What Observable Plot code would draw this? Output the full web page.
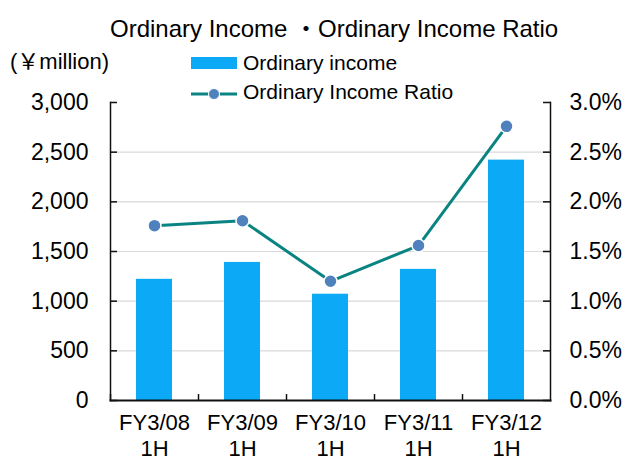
<!DOCTYPE html>
<html><head><meta charset="utf-8">
<script src="https://cdn.jsdelivr.net/npm/d3@7"></script>
<script src="https://cdn.jsdelivr.net/npm/@observablehq/plot@0.6"></script>
<style>
body{margin:0;background:#fff;font-family:"Liberation Sans",Arial,"Noto Sans CJK JP",sans-serif;}
#wrap{position:relative;width:629px;height:461px;overflow:hidden;}
#chart{position:absolute;left:0;top:0;}
.t{position:absolute;white-space:nowrap;color:#000;line-height:1;}
.cjk{font-family:"Noto Sans CJK JP",sans-serif;}
.sw{position:absolute;}
</style></head><body>
<div id="wrap">
  <div id="chart"></div>
  <div class="t" style="left:110px;top:14.7px;font-size:24px">Ordinary Income <span class="cjk">・</span>Ordinary Income Ratio</div>
  <div class="t" style="left:10px;top:48px;font-size:22px">(<span class="cjk">￥</span>million)</div>
  <svg class="sw" style="left:185px;top:50px" width="60" height="60">
    <rect x="6" y="7" width="46" height="12" fill="#0BA9F6"></rect>
    <line x1="6" y1="44" x2="52" y2="44" stroke="#0A8482" stroke-width="3"></line>
    <circle cx="29" cy="44" r="5.5" fill="#4F81BD" stroke="#fff" stroke-width="1"></circle>
  </svg>
  <div class="t" style="left:243px;top:52.4px;font-size:21px">Ordinary income</div>
  <div class="t" style="left:243px;top:81.4px;font-size:21px">Ordinary Income Ratio</div>
</div>
<script>
const periods = ["FY3/08", "FY3/09", "FY3/10", "FY3/11", "FY3/12"];
const periodSuffix = "1H";
const incomes = [1220, 1390, 1070, 1320, 2420];          // ¥ million
const ratios = [1.76, 1.81, 1.20, 1.56, 2.76];            // %
const leftTicks = [0, 500, 1000, 1500, 2000, 2500, 3000];
const gridTicks = [500, 1000, 1500, 2000, 2500];
const rightTickLabels = ["0.0%", "0.5%", "1.0%", "1.5%", "2.0%", "2.5%", "3.0%"];

const data = periods.map((p, i) => ({period: p, income: incomes[i], ratio: ratios[i]}));
const ratioToLeft = r => r * 1000; // 3.0% ↔ 3,000

const W = 629, H = 461, mL = 110, mR = 79, mT = 102, mB = 61;
const step = (W - mL - mR) / periods.length;

const chart = Plot.plot({
  width: W, height: H,
  marginLeft: mL, marginRight: mR, marginTop: mT, marginBottom: mB,
  style: {fontFamily: '"Liberation Sans", Arial, sans-serif', color: "#000", background: "transparent", overflow: "visible"},
  x: {domain: periods, paddingInner: 0.59, paddingOuter: 0.295, axis: null, label: null},
  y: {domain: [0, 3000], axis: null, label: null},
  marks: [
    Plot.gridY(gridTicks, {stroke: "#d9d9d9", strokeOpacity: 1, strokeWidth: 1.2}),
    Plot.barY(data, {x: "period", y: "income", fill: "#0BA9F6"}),
    Plot.line(data, {x: "period", y: d => ratioToLeft(d.ratio), stroke: "#0A8482", strokeWidth: 3}),
    Plot.dot(data, {x: "period", y: d => ratioToLeft(d.ratio), r: 6.5, fill: "#4F81BD", stroke: "#fff", strokeWidth: 1.5}),
    Plot.frame({anchor: "left", stroke: "#111", strokeWidth: 1.5}),
    Plot.frame({anchor: "right", stroke: "#111", strokeWidth: 1.5}),
    Plot.frame({anchor: "bottom", stroke: "#111", strokeWidth: 2}),
    Plot.axisY(leftTicks, {anchor: "left", label: null, tickSize: 0, tickPadding: 22, tickFormat: d3.format(","), fontSize: 23}),
    Plot.axisY(leftTicks, {anchor: "left", label: null, tickSize: -7, text: null, stroke: "#111", strokeWidth: 1.5, strokeOpacity: 1}),
    Plot.axisY(leftTicks, {anchor: "right", label: null, tickSize: 0, tickPadding: 19, tickFormat: d => rightTickLabels[leftTicks.indexOf(d)], fontSize: 23}),
    Plot.axisY(leftTicks, {anchor: "right", label: null, tickSize: -8, text: null, stroke: "#111", strokeWidth: 1.5, strokeOpacity: 1}),
    Plot.axisX({anchor: "bottom", label: null, tickSize: 0, tickPadding: 12, tickFormat: d => d + "\n" + periodSuffix, fontSize: 22, lineHeight: 1.15}),
    Plot.axisX({anchor: "bottom", label: null, tickSize: -6, text: null, dx: -step / 2, stroke: "#111", strokeWidth: 1.5, strokeOpacity: 1})
  ]
});
document.getElementById("chart").appendChild(chart);
</script>
</body></html>
